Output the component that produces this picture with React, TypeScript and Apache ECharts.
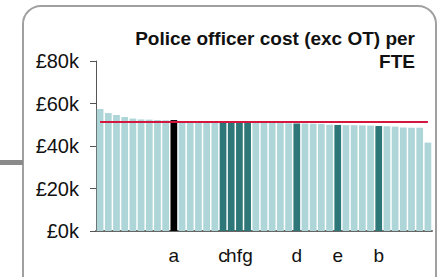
import React, { useEffect, useRef } from "react";
import * as echarts from "echarts";

const categories = [
  "", "", "", "", "", "", "", "", "", "a",
  "", "", "", "", "", "c", "h", "f", "g", "",
  "", "", "", "", "d", "", "", "", "", "e",
  "", "", "", "", "b", "", "", "", "", "", "",
];

const costValues = [
  57.4, 55.5, 54.6, 53.6, 52.9, 52.5, 52.4, 52.2, 52.1, 52.2,
  51.7, 51.7, 51.6, 51.6, 51.5, 51.6, 51.5, 51.4, 51.3, 51.0,
  50.9, 50.9, 50.8, 50.7, 50.6, 50.6, 50.5, 50.4, 50.0, 49.9,
  49.8, 49.8, 49.7, 49.6, 49.4, 49.3, 49.1, 48.7, 48.6, 48.6, 41.6,
];

const averageValue = 51.2;
const blackLabels = ["a"];
const darkLabels = ["c", "h", "f", "g", "d", "e", "b"];
const yTicks = [0, 20, 40, 60, 80];
const titleText = "Police officer cost (exc OT) per\nFTE";

const FONT = "'Liberation Sans', Arial, Helvetica, sans-serif";

export default function App() {
  const ref = useRef<HTMLDivElement>(null);
  useEffect(() => {
    document.body.style.margin = "0";
    const chart = echarts.init(ref.current!, undefined, { renderer: "svg" });
    const barData = costValues.map((v, i) => {
      const lab = categories[i];
      let color = "#aed5d8";
      if (blackLabels.includes(lab)) color = "#000000";
      else if (darkLabels.includes(lab)) color = "#2e7778";
      return { value: v, itemStyle: { color } };
    });
    chart.setOption({
      animation: false,
      textStyle: { fontFamily: FONT },
      grid: { left: 96, right: 6, top: 61, bottom: 46, containLabel: false },
      xAxis: {
        type: "category",
        data: categories,
        axisLine: { show: true, lineStyle: { color: "#666666", width: 2 } },
        axisTick: { show: false },
        axisLabel: {
          interval: 0,
          hideOverlap: false,
          color: "#111111",
          fontSize: 19,
          fontFamily: FONT,
          margin: 15,
        },
      },
      yAxis: {
        type: "value",
        min: yTicks[0],
        max: yTicks[yTicks.length - 1],
        interval: 20,
        axisLine: { show: true, lineStyle: { color: "#555555", width: 1 } },
        axisTick: { show: true, length: 6, lineStyle: { color: "#555555" } },
        splitLine: { show: false },
        axisLabel: {
          formatter: "£{value}k",
          color: "#111111",
          fontSize: 20,
          fontFamily: FONT,
          margin: 17,
        },
      },
      series: [
        {
          type: "bar",
          data: barData,
          barCategoryGap: "18%",
          markLine: {
            silent: true,
            symbol: "none",
            label: { show: false },
            lineStyle: { color: "#d4173f", width: 2, type: "solid" },
            data: [
              [
                { coord: [0, averageValue] },
                { coord: [costValues.length - 1, averageValue] },
              ],
            ],
          },
        },
      ],
      graphic: [
        {
          type: "rect",
          shape: { x: 23, y: 6, width: 413, height: 292, r: 18 },
          style: { fill: "none", stroke: "#a0a0a0", lineWidth: 2 },
          silent: true,
        },
        {
          type: "rect",
          shape: { x: 0, y: 160, width: 23, height: 5 },
          style: { fill: "#8a8a8a" },
          silent: true,
        },
        {
          type: "text",
          x: 415,
          y: 27,
          style: {
            text: titleText,
            align: "right",
            verticalAlign: "top",
            font: `bold 19px ${FONT}`,
            lineHeight: 23,
            fill: "#111111",
          },
        },
      ],
    });
    return () => chart.dispose();
  }, []);
  return (
    <div
      ref={ref}
      style={{ position: "absolute", left: 0, top: 0, width: 438, height: 277 }}
    />
  );
}
